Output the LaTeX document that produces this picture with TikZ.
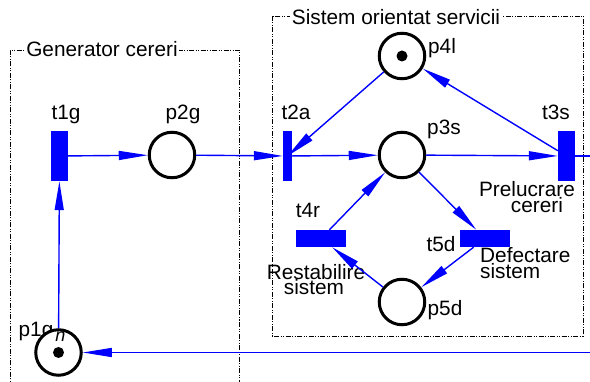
\documentclass[tikz,border=0pt]{standalone}
\usepackage{fontspec}
\setmainfont{Liberation Sans}
\usetikzlibrary{arrows.meta}
\begin{document}
\begin{tikzpicture}[x=1pt,y=-1pt,
  place/.style={circle,draw=black,line width=3pt,fill=white,minimum size=45.5pt,inner sep=0pt},
  transv/.style={rectangle,fill=blue,draw=none,minimum width=17pt,minimum height=50pt,inner sep=0pt},
  transthin/.style={transv,minimum width=9pt},
  transh/.style={rectangle,fill=blue,draw=none,minimum width=50pt,minimum height=17pt,inner sep=0pt},
  conn/.style={draw=blue,line width=1.4pt},
  arc/.style={conn,-{Triangle[length=29pt,width=9pt]}},
  lbl/.style={font=\fontsize{20.8}{16}\selectfont,inner sep=0pt,anchor=base},
  lblw/.style={lbl,anchor=base west},
  group/.style={draw=black,line width=0.9pt,dash pattern=on 5pt off 1.5pt on 1pt off 1.5pt on 1pt off 1.5pt},
  grouplbl/.style={lbl,fill=white,inner sep=1.5pt}
]
\useasboundingbox (0,0) rectangle (590,382);
\clip (0,0) rectangle (590,382);

% groups
\draw[group] (10,400) -- (10,50) -- (239,50) -- (239,400);
\draw[group] (272,16) rectangle (583,336);
\node[grouplbl] (gGen) at (102,57) {Generator cereri};
\node[grouplbl] (gSys) at (396,25) {Sistem orientat servicii};

% labels
\node[lbl] (Lt1g) at (66,120) {t1g};
\node[lbl] (Lp2g) at (183,120) {p2g};
\node[lbl] (Lt2a) at (296,120) {t2a};
\node[lbl] (Lt3s) at (556,120) {t3s};
\node[lbl] (Lp4l) at (442,54) {p4l};
\node[lbl] (Lp3s) at (444,135) {p3s};
\node[lbl] (Lt4r) at (308,218) {t4r};
\node[lbl] (Lt5d) at (441,252) {t5d};
\node[lbl] (Lp5d) at (445,316) {p5d};
\node[lbl] (Lp1g) at (36,337) {p1g};
\node[lbl] (Lpr1) at (527,197) {Prelucrare};
\node[lbl] (Lpr2) at (537,213) {cereri};
\node[lbl] (Lre1) at (316,280) {Restabilire};
\node[lbl] (Lre2) at (314,295) {sistem};
\node[lblw] (Lde1) at (480,263) {Defectare};
\node[lblw] (Lde2) at (480,279) {sistem};

% places
\node[place] (p1g) at (58.5,352.5) {};
\node[place] (p2g) at (172,155) {};
\node[place] (p4l) at (402,56) {};
\node[place] (p3s) at (402,155) {};
\node[place] (p5d) at (402,302) {};

% transitions
\node[transv] (t1g) at (59.5,156) {};
\node[transthin] (t2a) at (287.5,156) {};
\node[transv] (t3s) at (566.5,156) {};
\node[transh] (t4r) at (321,238.5) {};
\node[transh] (t5d) at (485,238.5) {};

% tokens
\fill (p4l.center) circle (5.5pt);
\fill (p1g.center) circle (5.5pt);
\node[font=\fontsize{18}{18}\selectfont\itshape,inner sep=0pt] (ntok) at (60.5,337) {n};

% arcs
\coordinate (outR) at (600,156);
\coordinate (inR) at (600,352.5);
\draw[arc] (p1g) -- (t1g);
\draw[arc] (t1g) -- (p2g);
\draw[arc] (p2g) -- (t2a);
\draw[arc] (t2a) -- (p3s);
\draw[arc] (p3s) -- (t3s);
\draw[arc] (p4l) -- (t2a.center);
\draw[arc] (t3s) -- (p4l);
\draw[arc] (p3s) -- (t5d);
\draw[arc] (t5d) -- (p5d);
\draw[arc] (p5d) -- (t4r);
\draw[arc] (t4r) -- (p3s);
\draw[conn] (t3s) -- (outR);
\draw[arc] (inR) -- (p1g);
\end{tikzpicture}
\end{document}
